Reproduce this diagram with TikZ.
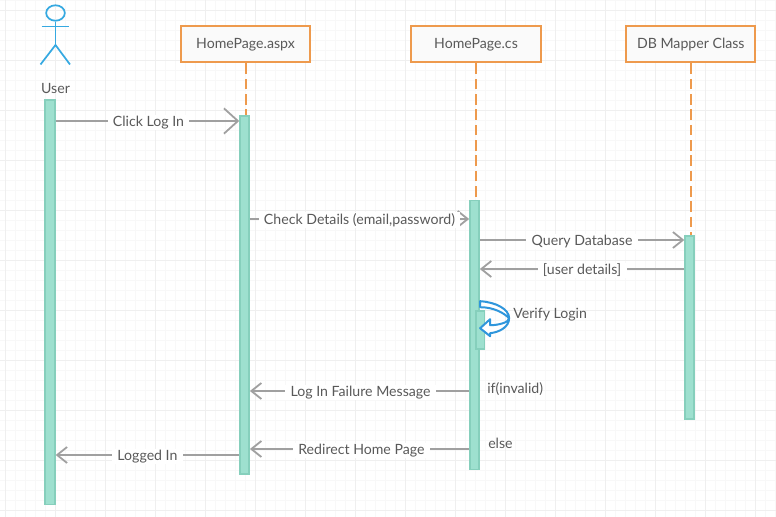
\documentclass[tikz,border=0pt]{standalone}
\usepackage{fontspec}
\setmainfont{Lato}
\usetikzlibrary{arrows.meta, shapes.geometric}
\definecolor{BoxD}{HTML}{EE9A4D}
\definecolor{BoxF}{HTML}{FAFAFA}
\definecolor{ActD}{HTML}{86CFBC}
\definecolor{ActF}{HTML}{9EE0CF}
\definecolor{MsgD}{HTML}{A0A0A0}
\definecolor{UsrD}{HTML}{36A9E1}
\definecolor{SlfD}{HTML}{2F96DC}
\definecolor{TxtD}{HTML}{595959}
\definecolor{GrdA}{HTML}{F8F8F8}
\definecolor{GrdB}{HTML}{EFEFEF}
\tikzset{
  BOX/.style={
    rectangle, draw=BoxD, fill=BoxF, text=TxtD,
    font=\fontsize{10.6pt}{12pt}\selectfont, align=center,
    inner sep=0pt, minimum width=97pt, minimum height=27pt,
    line width=1.5pt
  },
  LIFE/.style={
    draw=BoxD, line width=1.5pt, dash pattern=on 8pt off 3.5pt
  },
  ACT/.style={
    rectangle, draw=ActD, fill=ActF, inner sep=0pt,
    minimum width=#1, line width=1.2pt
  },
  ARR/.style={
    -{Straight Barb[length=7.5pt,width=12pt]},
    line width=1.35pt, color=MsgD
  },
  LBL/.style={
    fill=white, text=TxtD, inner xsep=4pt, inner ysep=1pt,
    yshift=-1pt, font=\fontsize{10.6pt}{12pt}\selectfont
  },
  TXT/.style={
    text=TxtD, inner sep=0pt,
    font=\fontsize{10.6pt}{12pt}\selectfont
  },
  USR/.style={draw=UsrD, line width=1.3pt},
}

\begin{document}
\begin{tikzpicture}[x=0.75pt,y=-0.75pt]

\useasboundingbox (0,0) rectangle (776,517);

%================ GRID =================
\foreach \gx in {5.5,15.5,...,775.5} \draw[GrdA,line width=0.6pt] (\gx,0)--(\gx,517);
\foreach \gy in {0.5,10.5,...,510.5} \draw[GrdA,line width=0.6pt] (0,\gy)--(776,\gy);
\foreach \gx in {5.5,55.5,...,755.5} \draw[GrdB,line width=0.6pt] (\gx,0)--(\gx,517);
\foreach \gy in {10.5,60.5,...,510.5} \draw[GrdB,line width=0.6pt] (0,\gy)--(776,\gy);

%================ USER =================
\node[USR,ellipse,inner sep=0pt,minimum width=14pt,minimum height=11.6pt] (head) at (55.5,13) {};
\coordinate (hip)  at (55.5,45);
\coordinate (armL) at (41.5,26.5);
\coordinate (armR) at (69,26.5);
\coordinate (legL) at (40.5,64.5);
\coordinate (legR) at (70,64.5);
\draw[USR] (head.south)--(hip);
\draw[USR] (armL)--(armR);
\draw[USR] (legL)--(hip)--(legR);
\node[TXT] (user) at (55.5,88.5) {User};

%================ CLASS BOXES =================
\node[BOX] (aspx) at (245.5,44.5) {HomePage.aspx};
\node[BOX] (cs)   at (476,44.5)   {HomePage.cs};
\node[BOX] (dbm)  at (690.8,44.5) {DB Mapper Class};

%================ ACTIVATIONS =================
\node[ACT=7.6pt,minimum height=303.5pt] (actU) at (49.8,302.3) {};
\node[ACT=6.8pt,minimum height=268.5pt] (actA) at (244.6,294.8) {};
\node[ACT=6.8pt,minimum height=201.5pt] (actC) at (474.5,335) {};
\node[ACT=6.8pt,minimum height=137pt]   (actD) at (689.7,327.5) {};

%================ LIFELINES =================
\draw[LIFE] (aspx.south)--(aspx.south |- actA.north);
\draw[LIFE] (cs.south)--(cs.south |- actC.north);
\draw[LIFE] (dbm.south)--(dbm.south |- actD.north);

%================ MESSAGES =================
\draw[ARR,-{Straight Barb[length=10.5pt,width=19pt]}]
(actU.east |- 0,121) -- node[LBL,xshift=0.8pt] (m1) {Click Log In} (actA.west |- 0,121);

\draw[ARR] (actA.east |- 0,219) -- node[LBL] (m2) {Check Details (email,password)} (actC.west |- 0,219);
\draw[ARR] (actC.east |- 0,240) -- node[LBL] (m3) {Query Database} (actD.west |- 0,240);
\draw[ARR] (actD.west |- 0,269) -- node[LBL] (m4) {[user details]} (actC.east |- 0,269);

\draw[ARR] (actC.west |- 0,391) -- node[LBL,xshift=0.8pt] (m5) {Log In Failure Message} (actA.east |- 0,391);
\draw[ARR] (actC.west |- 0,449) -- node[LBL,xshift=1.4pt] (m6) {Redirect Home Page} (actA.east |- 0,449);
\draw[ARR] (actA.west |- 0,455) -- node[LBL] (m7) {Logged In} (actU.east |- 0,455);

%================ SELF CALL =================
\node[ACT=6.4pt,minimum height=28.5pt] (actV) at (480.2,330) {};

\begin{scope}[shift={(actV.north west)}]
\draw[draw=SlfD,fill=white,line width=1.5pt,line join=round]
(5,-9) .. controls (21,-8) and (34,-1) .. (34,8)
.. controls (34,17) and (24,22) .. (15,23)
-- (15,26) -- (5,18) -- (15,9) -- (15,15)
.. controls (24,15) and (34,12) .. (34,8)
.. controls (29,3) and (19,-3) .. (5,-3) -- cycle;
\end{scope}

\node[TXT,anchor=west] (vlog) at (513,314.5) {Verify Login};

%================ GUARDS =================
\node[TXT,anchor=west] (gif)   at (487,389.5) {if(invalid)};
\node[TXT,anchor=west] (gelse) at (488,443.5) {else};

\end{tikzpicture}
\end{document}
